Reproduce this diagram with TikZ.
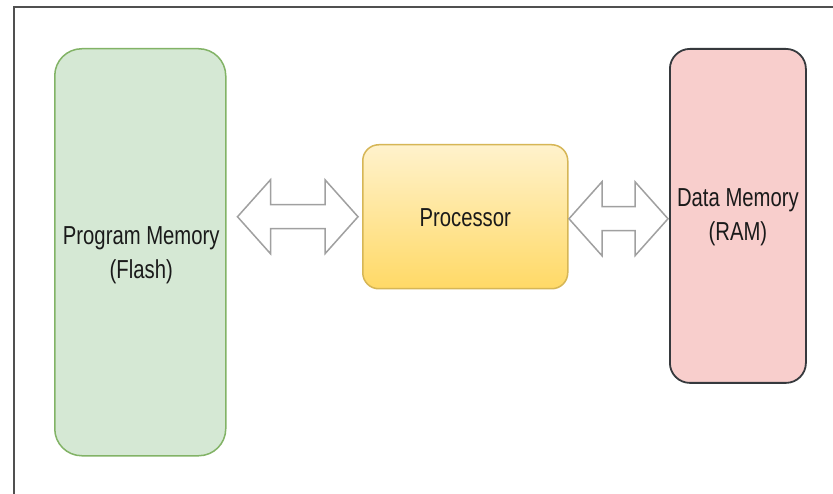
\documentclass[tikz,border=0pt]{standalone}
\usepackage{fontspec}
\setmainfont{Liberation Sans}[FakeStretch=0.78]
\usetikzlibrary{calc}

\definecolor{greenfill}{HTML}{D5E8D4}
\definecolor{greenline}{HTML}{82B366}
\definecolor{redfill}{HTML}{F8CECC}
\definecolor{redline}{HTML}{36393D}
\definecolor{yellowtop}{HTML}{FFF2CC}
\definecolor{yellowbot}{HTML}{FFD966}
\definecolor{yellowline}{HTML}{D6B656}
\definecolor{arrowline}{HTML}{A0A0A0}
\definecolor{framecol}{HTML}{505050}
\definecolor{labelcol}{HTML}{1A1A1A}

% double-headed block arrow between two tip points (same height)
\newcommand\twowayarrow[2]{%
  \draw[flowarrow] let \p1=(#1), \p2=(#2) in
    (\x1,\y1) -- (\x1+33pt,\y1+37pt) -- (\x1+33pt,\y1+12pt)
    -- (\x2-33pt,\y1+12pt) -- (\x2-33pt,\y1+37pt) -- (\x2,\y1)
    -- (\x2-33pt,\y1-37pt) -- (\x2-33pt,\y1-12pt)
    -- (\x1+33pt,\y1-12pt) -- (\x1+33pt,\y1-37pt) -- cycle;}

\begin{document}
\begin{tikzpicture}[x=1pt,y=-1pt,
  block/.style={rectangle, anchor=north west, align=center,
    text=labelcol, font=\fontsize{26}{34}\selectfont, inner sep=0pt},
  label text/.style={text=labelcol, align=center,
    font=\fontsize{26}{34}\selectfont, inner sep=0pt},
  flowarrow/.style={draw=arrowline, fill=white, line width=1.5pt, line join=miter},
  frameline/.style={draw=framecol, line width=1.5pt}]

\useasboundingbox (0,0) rectangle (833,494);
\fill[white] (0,0) rectangle (833,494);

% frame lines along the top and the left side
\draw[frameline] (14,494) -- (14,7) -- (833,7);

% memories and processor
\node[block, draw=greenline, fill=greenfill, line width=1.5pt,
      rounded corners=27pt, minimum width=171pt, minimum height=407pt]
  (prog) at (54,48) {};
\node[label text] (progtext) at ($(prog.center)+(1,3)$) {Program Memory\\(Flash)};

\node[block, draw=redline, fill=redfill, line width=1.8pt,
      rounded corners=20pt, minimum width=136pt, minimum height=334pt]
  (data) at (669,48) {};
\node[label text] (datatext) at ($(data.center)+(0,1)$) {Data Memory\\(RAM)};

\node[block, draw=yellowline, top color=yellowtop, bottom color=yellowbot,
      line width=1.5pt, rounded corners=16pt,
      minimum width=205pt, minimum height=144pt]
  (proc) at (362,144) {};
\node[label text] (proctext) at ($(proc.center)+(0,1)$) {Processor};

% bidirectional links
\coordinate (pl) at ($(prog.east |- proc.west)+(11,0)$);
\coordinate (pr) at ($(proc.west)+(-4,0)$);
\coordinate (dl) at ($(proc.east)+(0.5,2)$);
\coordinate (dr) at ($(data.west |- proc.east)+(-1,2)$);
\twowayarrow{pl}{pr}
\twowayarrow{dl}{dr}

\end{tikzpicture}
\end{document}
